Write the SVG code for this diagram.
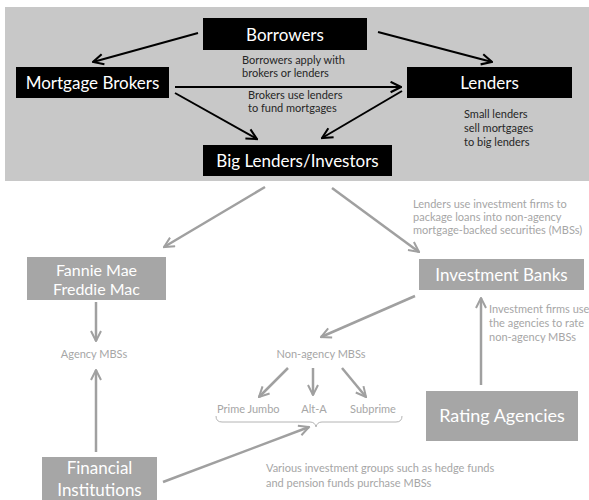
<svg xmlns="http://www.w3.org/2000/svg" width="589" height="500" viewBox="0 0 589 500">
<defs>
<style>
.bk{fill:#000}
.gb{fill:#a6a6a6}
.t1{font-family:Lato,"Liberation Sans",sans-serif;fill:#fff;text-anchor:middle}
.sm{font-family:Lato,"Liberation Sans",sans-serif;font-size:11px;fill:#262626}
.lg{font-family:Lato,"Liberation Sans",sans-serif;font-size:11px;fill:#a6a6a6}
.ca{stroke:#000;stroke-width:2;fill:none;marker-end:url(#ah)}
.ga{stroke:#a0a0a0;stroke-width:2.5;fill:none;marker-end:url(#gh)}
</style>
<marker id="ah" viewBox="0 0 10 10" refX="9" refY="5" markerWidth="6.5" markerHeight="6.5" orient="auto" markerUnits="strokeWidth">
<path d="M1,1 L9,5 L1,9" fill="none" stroke="#000" stroke-width="1.6"/>
</marker>
<marker id="gh" viewBox="0 0 10 10" refX="9" refY="5" markerWidth="5" markerHeight="5" orient="auto" markerUnits="strokeWidth">
<path d="M1,1 L9,5 L1,9" fill="none" stroke="#a0a0a0" stroke-width="1.6"/>
</marker>
</defs>
<rect x="5" y="7" width="584" height="174" fill="#c8c8c8"/>
<g id="connectors">
<line class="ca" x1="198" y1="33" x2="93" y2="62"/>
<line class="ca" x1="378" y1="32" x2="492" y2="62"/>
<line class="ca" x1="175" y1="87" x2="401" y2="87"/>
<line class="ca" x1="175" y1="93" x2="257" y2="139"/>
<line class="ca" x1="402" y1="91" x2="322" y2="138"/>
<line class="ga" x1="265" y1="187" x2="164" y2="247"/>
<line class="ga" x1="332" y1="188" x2="419" y2="252"/>
<line class="ga" x1="96" y1="302" x2="96" y2="341"/>
<line class="ga" x1="96" y1="452" x2="96" y2="370"/>
<line class="ga" x1="415" y1="296" x2="321" y2="337"/>
<line class="ga" x1="481" y1="385" x2="481" y2="298"/>
<line class="ga" x1="288" y1="368" x2="259" y2="397"/>
<line class="ga" x1="313" y1="368" x2="313" y2="395"/>
<line class="ga" x1="342" y1="368" x2="366" y2="397"/>
<line class="ga" x1="163" y1="482" x2="309" y2="427"/>
<path d="M216,416 Q216,422 222,422 L310,422 Q315,422 316,427 Q317,422 322,422 L396,422 Q402,422 402,416" fill="none" stroke="#b4b4b4" stroke-width="1"/>
</g>
<g id="borrowers"><rect class="bk" x="203" y="18" width="164" height="32"/><text class="t1" x="285" y="41" font-size="17">Borrowers</text></g>
<g id="mortgage-brokers"><rect class="bk" x="16" y="67" width="153" height="31"/><text class="t1" x="92.5" y="89" font-size="17">Mortgage Brokers</text></g>
<g id="lenders"><rect class="bk" x="407" y="67" width="165" height="31"/><text class="t1" x="489.5" y="89" font-size="17">Lenders</text></g>
<g id="big-lenders"><rect class="bk" x="203" y="145" width="189" height="31"/><text class="t1" x="297.5" y="167" font-size="17">Big Lenders/Investors</text></g>
<g id="labels-top">
<text class="sm" x="242" y="64">Borrowers apply with</text>
<text class="sm" x="242" y="77">brokers or lenders</text>
<text class="sm" x="248" y="99">Brokers use lenders</text>
<text class="sm" x="248" y="112">to fund mortgages</text>
<text class="sm" x="464" y="118">Small lenders</text>
<text class="sm" x="464" y="132">sell mortgages</text>
<text class="sm" x="464" y="146">to big lenders</text>
</g>
<g id="fannie-freddie"><rect class="gb" x="27" y="257" width="139" height="43"/><text class="t1" x="96.5" y="276" font-size="16">Fannie Mae</text><text class="t1" x="96.5" y="295" font-size="16">Freddie Mac</text></g>
<g id="investment-banks"><rect class="gb" x="419" y="259" width="165" height="31"/><text class="t1" x="501.5" y="281" font-size="17">Investment Banks</text></g>
<g id="rating-agencies"><rect class="gb" x="426" y="391" width="152" height="50"/><text class="t1" x="502" y="422" font-size="18">Rating Agencies</text></g>
<g id="financial-institutions"><rect class="gb" x="42" y="457" width="115" height="50"/><text class="t1" x="99.5" y="474" font-size="17">Financial</text><text class="t1" x="99.5" y="496" font-size="17">Institutions</text></g>
<g id="labels-bottom">
<text class="lg" x="413" y="208">Lenders use investment firms to</text>
<text class="lg" x="413" y="221">package loans into non-agency</text>
<text class="lg" x="413" y="234">mortgage-backed securities (MBSs)</text>
<text class="lg" x="489" y="313">Investment firms use</text>
<text class="lg" x="489" y="327">the agencies to rate</text>
<text class="lg" x="489" y="341">non-agency MBSs</text>
<text class="lg" x="94" y="358" text-anchor="middle">Agency MBSs</text>
<text class="lg" x="321" y="358" text-anchor="middle">Non-agency MBSs</text>
<text class="lg" x="217" y="413">Prime Jumbo</text>
<text class="lg" x="314" y="413" text-anchor="middle">Alt-A</text>
<text class="lg" x="373" y="413" text-anchor="middle">Subprime</text>
<text class="lg" x="266" y="472">Various investment groups such as hedge funds</text>
<text class="lg" x="266" y="487">and pension funds purchase MBSs</text>
</g>
</svg>
